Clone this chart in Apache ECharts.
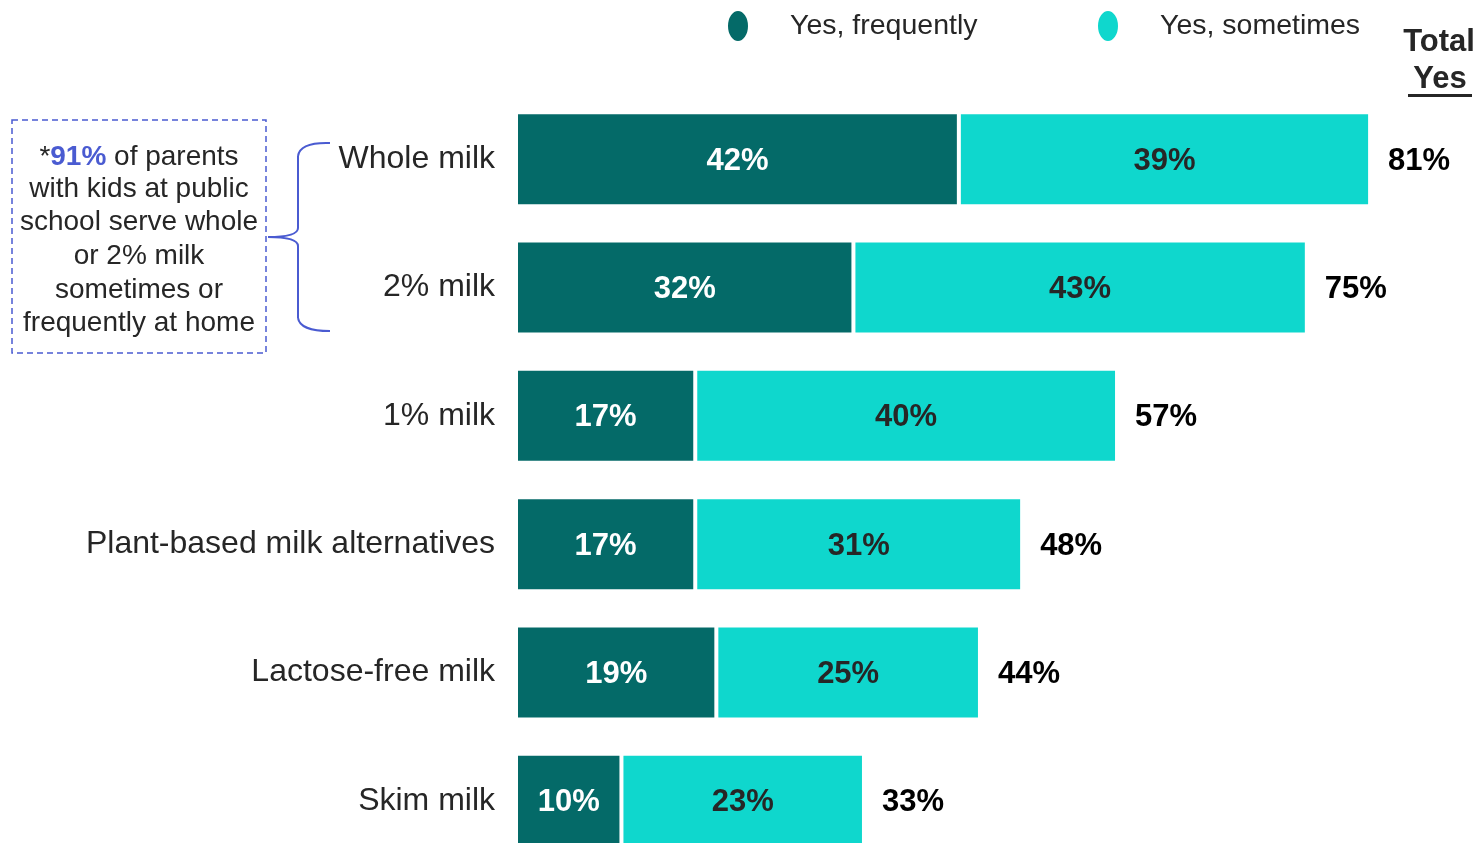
<!DOCTYPE html>
<html><head><meta charset="utf-8">
<script src="https://cdn.jsdelivr.net/npm/echarts@6/dist/echarts.min.js"></script>
<style>html,body{margin:0;padding:0;background:#fff}#c{width:1483px;height:843px}</style>
</head><body><div id="c"></div>
<script>
const categories = ['Whole milk', '2% milk', '1% milk', 'Plant-based milk alternatives', 'Lactose-free milk', 'Skim milk'];
const frequently = [42, 32, 17, 17, 19, 10];
const sometimes = [39, 43, 40, 31, 25, 23];
const totalYes = [81, 75, 57, 48, 44, 33];
const seriesNames = ['Yes, frequently', 'Yes, sometimes'];
const headerLines = ['Total', 'Yes'];
const noteLines = ['with kids at public', 'school serve whole', 'or 2% milk', 'sometimes or', 'frequently at home'];

const FONT = 'Liberation Sans, Arial, sans-serif';
const DARK = '#046A68';
const LIGHT = '#0FD7CD';
const BLUE = '#4A5BD1';
const TXT = '#262626';

const chart = echarts.init(document.getElementById('c'), null, {renderer: 'canvas'});
const ellipse = 'path://M50,0A50,50 0 1,1 50,100A50,50 0 1,1 50,0Z';
const legendBase = {
  orient: 'horizontal', padding: 0, icon: ellipse, itemWidth: 22, itemHeight: 32,
  symbolKeepAspect: false, selectedMode: false,
  textStyle: {fontFamily: FONT, fontSize: 28.5, color: TXT, padding: [0, 0, 14, 36]}
};

const noteY = [189, 222, 256, 290, 323];
const graphics = [
  {type: 'rect', shape: {x: 12, y: 120, width: 254, height: 233},
   style: {fill: 'none', stroke: BLUE, lineWidth: 1.5, lineDash: [6, 4]}},
  {type: 'text', x: 139, y: 157, style: {
    text: '*{b|91%} of parents', font: '28px ' + FONT, fill: TXT,
    textAlign: 'center', textVerticalAlign: 'middle',
    rich: {b: {fontWeight: 'bold', fontSize: 28, fontFamily: FONT, fill: BLUE}}
  }},
  // brace
  {type: 'bezierCurve', shape: {x1: 330, y1: 143, cpx1: 300, cpy1: 142, x2: 298, y2: 156},
   style: {stroke: BLUE, lineWidth: 2, fill: 'none'}},
  {type: 'line', shape: {x1: 298, y1: 156, x2: 298, y2: 228}, style: {stroke: BLUE, lineWidth: 2}},
  {type: 'bezierCurve', shape: {x1: 298, y1: 228, cpx1: 298, cpy1: 237, x2: 268, y2: 237},
   style: {stroke: BLUE, lineWidth: 2, fill: 'none'}},
  {type: 'bezierCurve', shape: {x1: 268, y1: 237, cpx1: 298, cpy1: 237, x2: 298, y2: 246},
   style: {stroke: BLUE, lineWidth: 2, fill: 'none'}},
  {type: 'line', shape: {x1: 298, y1: 246, x2: 298, y2: 318}, style: {stroke: BLUE, lineWidth: 2}},
  {type: 'bezierCurve', shape: {x1: 298, y1: 318, cpx1: 300, cpy1: 331, x2: 330, y2: 331},
   style: {stroke: BLUE, lineWidth: 2, fill: 'none'}},
  // header
  {type: 'text', x: 1439, y: 42, style: {text: headerLines[0], font: 'bold 31px ' + FONT, fill: TXT,
    textAlign: 'center', textVerticalAlign: 'middle'}},
  {type: 'text', x: 1440, y: 79, style: {text: headerLines[1], font: 'bold 31px ' + FONT, fill: TXT,
    textAlign: 'center', textVerticalAlign: 'middle'}},
  {type: 'line', shape: {x1: 1408, y1: 95.5, x2: 1472, y2: 95.5}, style: {stroke: TXT, lineWidth: 3}}
];
noteLines.forEach((t, i) => graphics.push({
  type: 'text', x: 139, y: noteY[i],
  style: {text: t, font: '28px ' + FONT, fill: TXT, textAlign: 'center', textVerticalAlign: 'middle'}
}));

const option = {
  backgroundColor: '#fff',
  animation: false,
  textStyle: {fontFamily: FONT},
  legend: [
    Object.assign({data: [seriesNames[0]], left: 726, top: 9}, legendBase),
    Object.assign({data: [seriesNames[1]], left: 1096, top: 9}, legendBase)
  ],
  grid: {left: 516, right: 18, top: 95, bottom: -22, outerBoundsMode: 'none', containLabel: false},
  xAxis: {type: 'value', min: 0, max: 90, show: false},
  yAxis: {
    type: 'category', data: categories, inverse: true,
    axisLine: {show: false}, axisTick: {show: false}, splitLine: {show: false},
    axisLabel: {fontFamily: FONT, fontSize: 32, color: TXT, margin: 21}
  },
  series: [
    {name: seriesNames[0], type: 'bar', stack: 'yes', data: frequently, barWidth: 94, barGap: '-100%',
     itemStyle: {color: DARK, borderColor: '#fff', borderWidth: 2},
     label: {show: true, position: 'inside', formatter: '{c}%', color: '#fff',
       fontFamily: FONT, fontWeight: 'bold', fontSize: 31, offset: [0, 2]}},
    {name: seriesNames[1], type: 'bar', stack: 'yes', data: sometimes, barWidth: 94, barGap: '-100%',
     itemStyle: {color: LIGHT, borderColor: '#fff', borderWidth: 2},
     label: {show: true, position: 'inside', formatter: '{c}%', color: TXT,
       fontFamily: FONT, fontWeight: 'bold', fontSize: 31, offset: [0, 2]}},
    {name: 'Total Yes', type: 'bar', data: totalYes, barWidth: 94, barGap: '-100%', silent: true, z: 1,
     itemStyle: {color: 'rgba(0,0,0,0)'},
     label: {show: true, position: 'right', distance: 18, formatter: '{c}%', color: '#000',
       fontFamily: FONT, fontWeight: 'bold', fontSize: 31, offset: [0, 2]}}
  ],
  graphic: graphics
};
chart.setOption(option);
</script></body></html>
